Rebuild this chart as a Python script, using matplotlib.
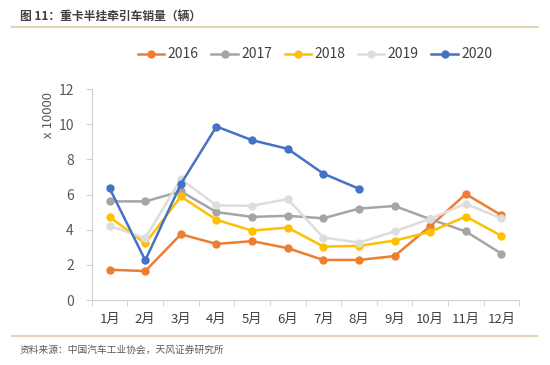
import matplotlib.pyplot as plt
from matplotlib.lines import Line2D

plt.rcParams['font.family'] = ['Noto Sans CJK SC', 'DejaVu Sans']

months = ['1月', '2月', '3月', '4月', '5月', '6月', '7月', '8月', '9月', '10月', '11月', '12月']
sales_2016 = [1.72, 1.65, 3.74, 3.19, 3.35, 2.95, 2.28, 2.28, 2.5, 4.2, 6.03, 4.82]
sales_2017 = [5.61, 5.61, 6.18, 5.0, 4.73, 4.79, 4.65, 5.2, 5.35, 4.6, 3.9, 2.64]
sales_2018 = [4.72, 3.22, 5.89, 4.56, 3.95, 4.12, 3.04, 3.08, 3.38, 3.88, 4.75, 3.65]
sales_2019 = [4.22, 3.52, 6.88, 5.38, 5.36, 5.74, 3.55, 3.27, 3.9, 4.62, 5.48, 4.64]
sales_2020 = [6.35, 2.26, 6.6, 9.87, 9.09, 8.6, 7.19, 6.33]

series = [
    ('2016', sales_2016, '#ED7D31'),
    ('2017', sales_2017, '#A5A5A5'),
    ('2018', sales_2018, '#FFC000'),
    ('2019', sales_2019, '#DDDDDD'),
    ('2020', sales_2020, '#4472C4'),
]

fig = plt.figure(figsize=(5.5, 3.65), dpi=100)
ax = fig.add_axes([0.167, 0.178, 0.777, 0.578])

for name, vals, color in series:
    ax.plot(range(len(vals)), vals, color=color, lw=1.8, marker='o', ms=5,
            label=name, zorder=3)

ax.set_xlim(-0.5, 11.5)
ax.set_ylim(0, 12)
ax.set_yticks(range(0, 13, 2))
ax.set_xticks(range(12))
ax.set_xticklabels(months)
ax.set_xticks([i - 0.5 for i in range(13)], minor=True)
ax.tick_params(axis='x', which='major', length=0, pad=9, labelsize=9.5, colors='#404040')
ax.tick_params(axis='x', which='minor', length=4, color='#D0D0D0')
ax.tick_params(axis='y', length=4, color='#D0D0D0', labelsize=10, labelcolor='#595959', pad=9)

for s in ['top', 'right']:
    ax.spines[s].set_visible(False)
for s in ['left', 'bottom']:
    ax.spines[s].set_color('#D0D0D0')
    ax.spines[s].set_linewidth(0.8)

fig.text(0.089, 0.685, 'x 10000', rotation=90, ha='center', va='center',
         fontsize=9.5, color='#595959')

handles = [Line2D([], [], color=c, lw=1.8, marker='o', ms=5) for _, _, c in series]
fig.legend(handles, [n for n, _, _ in series], loc='center', ncol=5,
           bbox_to_anchor=(0.573, 0.851), frameon=False, fontsize=10,
           handlelength=1.9, handletextpad=0.25, columnspacing=0.9,
           labelcolor='#404040')

fig.text(0.036, 0.955, '图 11：重卡半挂牵引车销量（辆）', fontsize=8.5,
         fontweight='bold', color='#404040', va='center')
fig.add_artist(Line2D([0.022, 0.978], [0.926, 0.926], color='#E3D3B5', lw=1.5))
fig.add_artist(Line2D([0.022, 0.976], [0.079, 0.079], color='#E3D3B5', lw=1.5))
fig.text(0.036, 0.042, '资料来源：中国汽车工业协会，天风证券研究所', fontsize=7,
         color='#595959', va='center')

fig.savefig('out.png', dpi=100, facecolor='white')
